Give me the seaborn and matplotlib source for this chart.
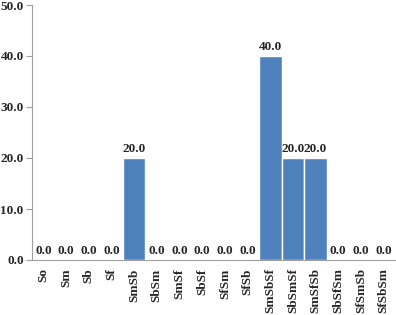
import pandas as pd
import numpy as np
import matplotlib
matplotlib.use('Agg')
import matplotlib.pyplot as plt
import seaborn as sns

# categories and percentages
categories = ['So', 'Sm', 'Sb', 'Sf', 'SmSb', 'SbSm', 'SmSf', 'SbSf', 'SfSm', 'SfSb',
              'SmSbSf', 'SbSmSf', 'SmSfSb', 'SbSfSm', 'SfSmSb', 'SfSbSm']
values = [0.0, 0.0, 0.0, 0.0, 20.0, 0.0, 0.0, 0.0, 0.0, 0.0,
          40.0, 20.0, 20.0, 0.0, 0.0, 0.0]
y_ticks = [0, 10, 20, 30, 40, 50]

df = pd.DataFrame({'category': categories, 'value': values})

sns.set_style('white')
plt.rcParams['font.family'] = ['Liberation Serif', 'DejaVu Serif']
plt.rcParams['font.weight'] = 'bold'
fs = 9.5

fig = plt.figure(figsize=(3.96, 3.15), dpi=100)
ax = fig.add_axes([32 / 396, 55 / 315, 363 / 396, 255 / 315])

sns.barplot(data=df, x='category', y='value', color='#4F81BD', saturation=1,
            width=1.0, edgecolor='white', linewidth=1.0, ax=ax)

# value labels on top of each bar
for i, v in enumerate(values):
    ax.annotate(f'{v:.1f}', (i, v), xytext=(0, 2.5), textcoords='offset points',
                ha='center', va='bottom', fontsize=fs, fontweight='bold')

ax.set_ylim(0, 50)
ax.set_xlim(-0.5, len(categories) - 0.5)
ax.set_yticks(y_ticks)
ax.set_yticklabels([f'{t:.1f}' for t in y_ticks], fontsize=fs, fontweight='bold')
ax.set_xticks(range(len(categories)))
ax.set_xticklabels(categories, rotation=90, fontsize=fs, fontweight='bold')
ax.set_xticks(np.arange(-0.5, len(categories), 1), minor=True)
ax.tick_params(axis='x', which='major', length=0, pad=6)
ax.tick_params(axis='x', which='minor', length=4, color='#A0A0A0', width=0.8)
ax.tick_params(axis='y', length=4, color='#A0A0A0', width=0.8, pad=2, left=True)
ax.set_xlabel('')
ax.set_ylabel('')

sns.despine(ax=ax, top=True, right=True)
for side in ['left', 'bottom']:
    ax.spines[side].set_color('#A0A0A0')
    ax.spines[side].set_linewidth(0.8)

fig.savefig('out.png', dpi=100)
